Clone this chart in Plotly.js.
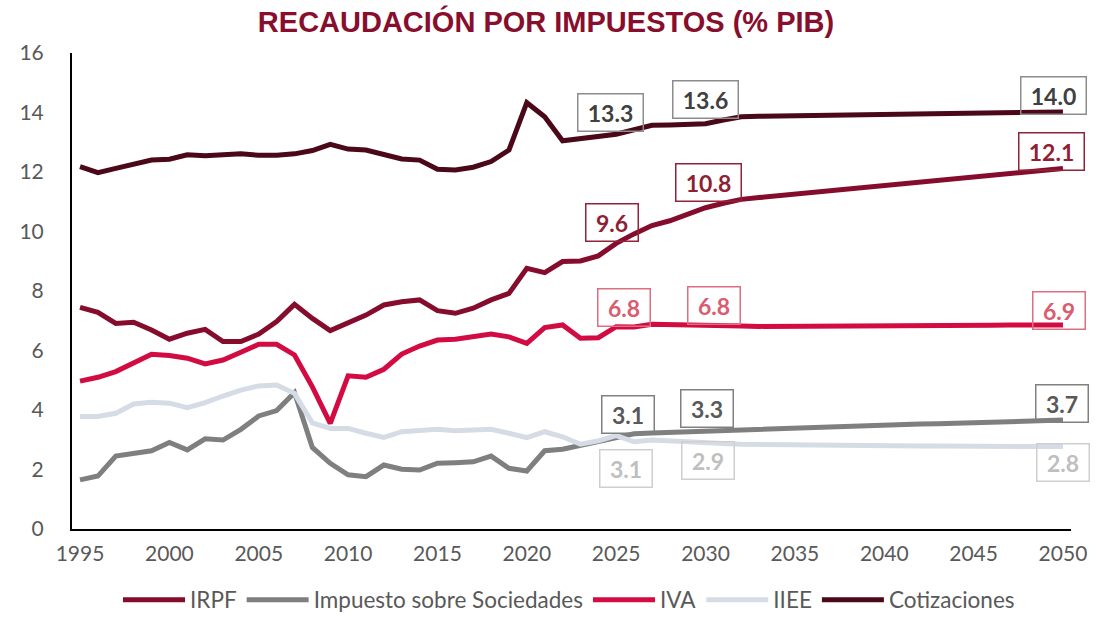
<!DOCTYPE html>
<html>
<head>
<meta charset="utf-8">
<script src="https://cdn.plot.ly/plotly-3.0.1.min.js"></script>
<style>
  html, body { margin: 0; padding: 0; background: #ffffff; }
  #chart { width: 1109px; height: 623px; }
</style>
</head>
<body>
<div id="chart"></div>
<script>
// ---- Data (% of GDP) ----
const years = [1995,1996,1997,1998,1999,2000,2001,2002,2003,2004,2005,2006,2007,2008,2009,2010,
  2011,2012,2013,2014,2015,2016,2017,2018,2019,2020,2021,2022,2023,2024,2025,2026,2027,2028,2029,2030,
  2031,2032,2033,2034,2035,2036,2037,2038,2039,2040,2041,2042,2043,2044,2045,2046,2047,2048,2049,2050];

const irpf = [7.45,7.28,6.91,6.95,6.69,6.38,6.58,6.71,6.30,6.30,6.55,6.97,7.55,7.08,6.67,6.95,
  7.19,7.53,7.64,7.70,7.34,7.25,7.42,7.70,7.92,8.76,8.62,8.99,9.01,9.18,9.60,9.92,10.20,10.36,10.56,10.80,
  10.95,11.08,11.14,11.20,11.26,11.31,11.37,11.43,11.49,11.55,11.61,11.67,11.72,11.78,11.84,11.90,11.96,12.01,12.06,12.12];

const sociedades = [1.65,1.78,2.45,2.54,2.63,2.91,2.66,3.03,2.99,3.35,3.80,3.98,4.58,2.74,2.21,1.82,
  1.76,2.15,2.01,1.98,2.21,2.23,2.26,2.45,2.04,1.95,2.63,2.68,2.82,2.96,3.10,3.20,3.23,3.25,3.30,3.33,
  3.35,3.37,3.38,3.40,3.41,3.43,3.44,3.46,3.48,3.49,3.51,3.53,3.54,3.56,3.58,3.59,3.61,3.62,3.64,3.66];

const iva = [4.97,5.10,5.29,5.57,5.87,5.83,5.74,5.55,5.68,5.94,6.21,6.21,5.85,4.78,3.55,5.15,
  5.10,5.37,5.88,6.15,6.35,6.38,6.46,6.55,6.46,6.24,6.77,6.86,6.41,6.43,6.80,6.79,6.88,6.86,6.85,6.83,
  6.82,6.82,6.81,6.81,6.82,6.82,6.82,6.83,6.83,6.84,6.84,6.84,6.85,6.85,6.85,6.85,6.86,6.86,6.86,6.86];

const iiee = [3.78,3.78,3.89,4.20,4.26,4.23,4.08,4.25,4.47,4.67,4.81,4.84,4.56,3.57,3.38,3.38,
  3.22,3.08,3.27,3.30,3.35,3.30,3.33,3.35,3.22,3.07,3.27,3.10,2.85,2.96,3.14,2.93,2.99,2.95,2.92,2.90,
  2.87,2.85,2.84,2.83,2.82,2.82,2.81,2.81,2.80,2.80,2.79,2.79,2.79,2.78,2.78,2.78,2.78,2.77,2.77,2.77];

const cotizaciones = [12.18,11.98,12.12,12.24,12.40,12.43,12.58,12.55,12.58,12.61,12.56,12.56,12.61,12.72,12.93,12.77,
  12.74,12.61,12.44,12.40,12.09,12.07,12.16,12.35,12.74,14.33,13.86,13.05,13.13,13.19,13.27,13.42,13.57,13.58,13.60,13.62,
  13.75,13.86,13.87,13.88,13.89,13.90,13.91,13.92,13.93,13.94,13.95,13.96,13.96,13.97,13.98,13.99,14.00,14.00,14.01,14.02];

const seriesNames = ['IRPF', 'Impuesto sobre Sociedades', 'IVA', 'IIEE', 'Cotizaciones'];
const labelYears = [2025, 2030, 2050];
const xTicks = [1995,2000,2005,2010,2015,2020,2025,2030,2035,2040,2045,2050];
const yTicks = [0,2,4,6,8,10,12,14,16];
const titleText = 'RECAUDACIÓN POR IMPUESTOS (% PIB)';

// ---- Styles ----
const lineColors = ['#850c2c', '#7f7f7f', '#d20b43', '#d6dce5', '#4a0818'];
const labelTextColors = ['#8e1f35', '#595959', '#d95c6f', '#bfbfbf', '#404040'];
const labelBorderColors = ['#902337', '#808080', '#dd6f80', '#cfcfcf', '#8c8c8c'];
const seriesData = [irpf, sociedades, iva, iiee, cotizaciones];

const traces = seriesData.map((vals, i) => ({
  type: 'scatter',
  mode: 'lines',
  name: seriesNames[i],
  x: years,
  y: vals,
  line: { color: lineColors[i], width: 5 },
  hoverinfo: 'x+y+name'
}));

// label offsets (pixels) for each series at 2025, 2030, 2050
const shifts = [
  [[-4, 21], [3, 25], [-11, 17]],     // IRPF
  [[12, 22], [1, 21], [-1, 17]],      // Sociedades
  [[8, 19], [8, 20], [-4, 14]],       // IVA
  [[10, -33], [2, -18], [0, -16]],    // IIEE
  [[-6, 22], [0, 24], [-9, 16]]       // Cotizaciones
];

const annotations = [];
seriesData.forEach((vals, i) => {
  labelYears.forEach((yr, j) => {
    const idx = years.indexOf(yr);
    const v = vals[idx];
    const txt = v.toFixed(1);
    annotations.push({
      x: yr, y: v, xref: 'x', yref: 'y',
      text: '<b>' + txt + '</b>',
      showarrow: false,
      xanchor: 'center', yanchor: 'middle',
      xshift: shifts[i][j][0], yshift: shifts[i][j][1],
      font: { family: 'Lato, "Open Sans", sans-serif', size: 23, color: labelTextColors[i] },
      bordercolor: labelBorderColors[i],
      borderwidth: 1.5,
      borderpad: 1,
      bgcolor: 'rgba(255,255,255,0)',
      width: txt.length > 3 ? 62 : 49,
      height: 34
    });
  });
});

const layout = {
  width: 1109,
  height: 623,
  paper_bgcolor: '#ffffff',
  plot_bgcolor: '#ffffff',
  margin: { l: 72, r: 38, t: 53, b: 94 },
  title: {
    text: '<b>' + titleText + '</b>',
    font: { family: '"Liberation Sans", Arial, sans-serif', size: 29, color: '#870e2d' },
    xref: 'container', x: 546 / 1109, xanchor: 'center',
    yref: 'container', y: 1 - 22 / 623, yanchor: 'middle'
  },
  xaxis: {
    range: [1994.55, 2050.45],
    tickvals: xTicks,
    ticktext: xTicks.map(String),
    showgrid: false,
    zeroline: false,
    showline: true,
    linecolor: '#000000',
    linewidth: 2,
    ticks: '',
    ticklabelstandoff: 5,
    tickfont: { family: 'Lato, "Open Sans", sans-serif', size: 21, color: '#595959' },
    fixedrange: true
  },
  yaxis: {
    range: [0, 16],
    tickvals: yTicks,
    ticktext: yTicks.map(String),
    showgrid: false,
    zeroline: false,
    showline: true,
    linecolor: '#000000',
    linewidth: 2,
    ticks: '',
    ticklabelstandoff: 22,
    tickfont: { family: 'Lato, "Open Sans", sans-serif', size: 21, color: '#595959' },
    fixedrange: true
  },
  legend: {
    orientation: 'h',
    xref: 'container', x: 569 / 1109, xanchor: 'center',
    yref: 'container', y: 23 / 623, yanchor: 'middle',
    font: { family: 'Lato, "Open Sans", sans-serif', size: 22.5, color: '#595959' },
    itemwidth: 62,
    traceorder: 'normal',
    bgcolor: 'rgba(0,0,0,0)'
  },
  annotations: annotations,
  showlegend: true
};

Plotly.newPlot('chart', traces, layout, { displayModeBar: false, staticPlot: true });
</script>
</body>
</html>
